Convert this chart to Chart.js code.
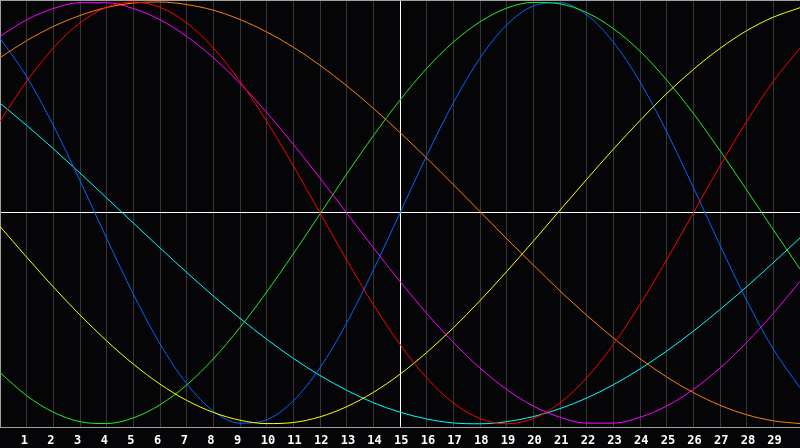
<!DOCTYPE html>
<html>
<head>
<meta charset="utf-8">
<script src="https://cdn.jsdelivr.net/npm/chart.js@4/dist/chart.umd.min.js"></script>
<style>
  html, body { margin: 0; padding: 0; background: #050508; }
  canvas { display: block; }
</style>
</head>
<body>
<canvas id="c" width="800" height="448"></canvas>
<script>
const xTicks = [0,1,2,3,4,5,6,7,8,9,10,11,12,13,14,15,16,17,18,19,20,21,22,23,24,25,26,27,28,29,30];

const red = [0.434,0.624,0.782,0.901,0.975,1.000,0.975,0.901,0.782,0.624,0.434,0.223,0.000,-0.223,-0.434,-0.624,-0.782,-0.901,-0.975,-1.000,-0.975,-0.901,-0.782,-0.624,-0.434,-0.223,0.000,0.223,0.434,0.624,0.782];
const orange = [0.736,0.817,0.884,0.936,0.974,0.995,1.000,0.988,0.961,0.917,0.858,0.786,0.700,0.603,0.496,0.381,0.260,0.134,0.006,-0.122,-0.247,-0.370,-0.485,-0.593,-0.691,-0.778,-0.852,-0.912,-0.957,-0.986,-0.999];
const magenta = [0.837,0.916,0.969,0.997,0.997,0.969,0.916,0.837,0.736,0.614,0.476,0.325,0.165,0.000,-0.165,-0.325,-0.476,-0.614,-0.736,-0.837,-0.916,-0.969,-0.997,-0.997,-0.969,-0.916,-0.837,-0.736,-0.614,-0.476,-0.325];
const yellow = [-0.064,-0.210,-0.351,-0.484,-0.607,-0.717,-0.812,-0.889,-0.946,-0.983,-0.999,-0.994,-0.967,-0.919,-0.851,-0.765,-0.662,-0.545,-0.416,-0.278,-0.134,0.013,0.159,0.302,0.438,0.566,0.680,0.780,0.864,0.928,0.973];
const green = [-0.757,-0.867,-0.945,-0.990,-0.999,-0.972,-0.910,-0.816,-0.692,-0.543,-0.375,-0.194,-0.005,0.184,0.366,0.535,0.685,0.810,0.906,0.971,0.998,0.991,0.950,0.874,0.767,0.630,0.472,0.295,0.109,-0.080,-0.266];
const blue = [0.829,0.646,0.415,0.153,-0.121,-0.385,-0.621,-0.810,-0.940,-0.997,-0.981,-0.891,-0.734,-0.522,-0.271,0.000,0.271,0.522,0.734,0.891,0.981,0.997,0.939,0.810,0.621,0.385,0.121,-0.153,-0.415,-0.646,-0.829];
const cyan = [0.520,0.415,0.304,0.189,0.071,-0.048,-0.166,-0.282,-0.394,-0.500,-0.599,-0.690,-0.771,-0.841,-0.900,-0.945,-0.977,-0.996,-1.000,-0.990,-0.966,-0.928,-0.878,-0.815,-0.740,-0.655,-0.561,-0.458,-0.350,-0.236,-0.119];

const seriesList = [
  { data: red, color: '#ff0000' },
  { data: orange, color: '#ff8000' },
  { data: magenta, color: '#ff00ff' },
  { data: yellow, color: '#ffff00' },
  { data: green, color: '#22ee22' },
  { data: blue, color: '#0066ff' },
  { data: cyan, color: '#00ffff' }
];

new Chart(document.getElementById('c'), {
  type: 'line',
  data: {
    labels: xTicks,
    datasets: seriesList.map(s => ({
      data: s.data,
      borderColor: s.color,
      borderWidth: 1,
      pointRadius: 0,
      pointHoverRadius: 0,
      fill: false,
      cubicInterpolationMode: 'monotone'
    }))
  },
  options: {
    responsive: false,
    animation: false,
    layout: { autoPadding: false, padding: { top: 0, left: 0, right: 0, bottom: 1 } },
    plugins: { legend: { display: false }, tooltip: { enabled: false } },
    scales: {
      x: {
        grid: {
          drawTicks: true,
          tickLength: 6,
          tickColor: 'rgba(0,0,0,0)',
          color: (ctx) => (ctx.tick && ctx.index === 15) ? '#ffffff' : '#363636',
          lineWidth: 1
        },
        border: { display: true, color: '#a0a0a0', width: 1 },
        ticks: {
          autoSkip: false,
          maxRotation: 0,
          align: 'start',
          labelOffset: -6,
          padding: 0,
          color: '#ffffff',
          font: { family: 'DejaVu Sans Mono', size: 12, weight: 'bold', lineHeight: 1.1 },
          callback: function (v, i) {
            const t = xTicks[i];
            return (t === 0 || t === 30) ? '' : String(t);
          }
        }
      },
      y: {
        min: -1.019,
        max: 1.0095,
        afterBuildTicks: (scale) => {
          scale.ticks = [{ value: scale.min }, { value: 0 }, { value: scale.max }];
        },
        grid: {
          drawTicks: false,
          color: (ctx) => (ctx.tick && ctx.tick.value === 0) ? '#ffffff' : '#a0a0a0',
          lineWidth: 1
        },
        border: { display: true, color: '#a0a0a0', width: 1 },
        ticks: { display: false }
      }
    }
  }
});
</script>
</body>
</html>
